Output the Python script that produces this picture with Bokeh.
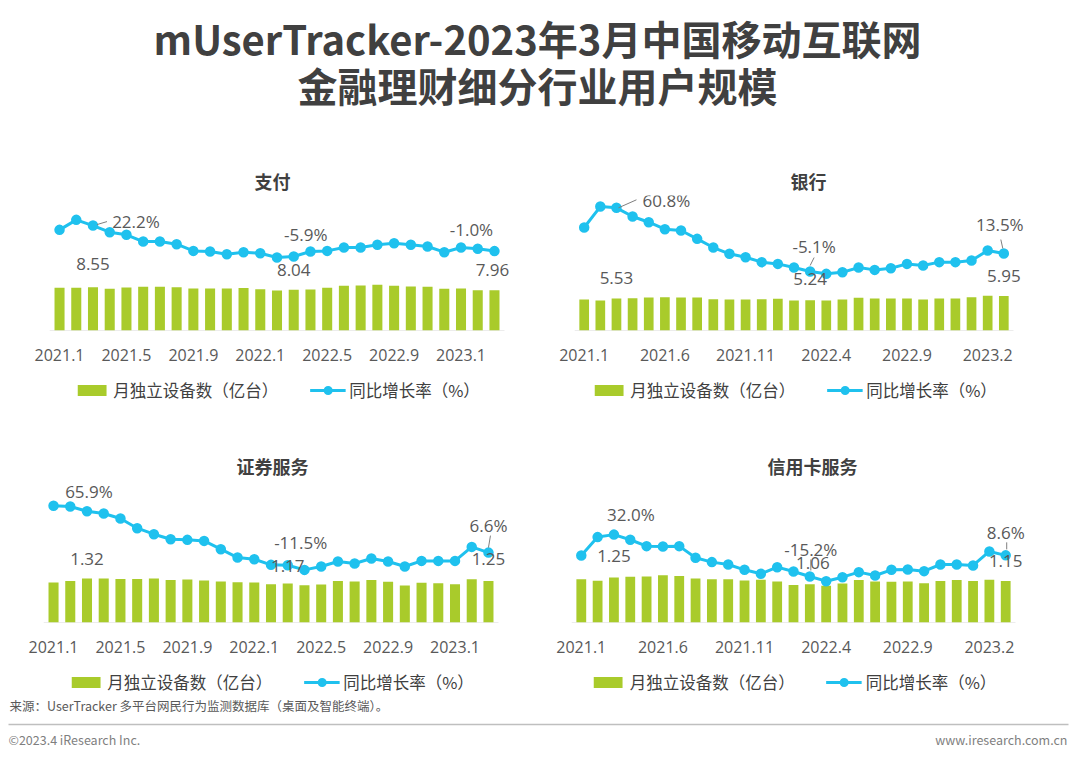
from bokeh.plotting import figure
from bokeh.models import (Range1d, ColumnDataSource, Legend, LegendItem, FixedTicker,
                          LabelSet, Spacer)
from bokeh.layouts import column, row
from bokeh.core.properties import value
from bokeh.embed import file_html
from bokeh.resources import INLINE

# ---------------- data ----------------
months = ["2021.1", "2021.2", "2021.3", "2021.4", "2021.5", "2021.6", "2021.7", "2021.8", "2021.9",
          "2021.10", "2021.11", "2021.12", "2022.1", "2022.2", "2022.3", "2022.4", "2022.5", "2022.6",
          "2022.7", "2022.8", "2022.9", "2022.10", "2022.11", "2022.12", "2023.1", "2023.2", "2023.3"]

left_ticks = ["2021.1", "2021.5", "2021.9", "2022.1", "2022.5", "2022.9", "2023.1"]
right_ticks = ["2021.1", "2021.6", "2021.11", "2022.4", "2022.9", "2023.2"]
label_months = ["2021.3", "2022.3", "2023.3"]

titles = ["支付", "银行", "证券服务", "信用卡服务"]

pay_users = [8.42, 8.42, 8.55, 8.22, 8.49, 8.62, 8.62, 8.55, 8.29, 8.29, 8.29, 8.36, 8.16, 7.89,
             8.04, 8.09, 8.42, 8.82, 8.88, 9.01, 8.82, 8.68, 8.62, 8.22, 8.29, 7.93, 7.96]
pay_growth = [18.3, 27.4, 22.2, 16.2, 13.8, 7.7, 7.7, 5.3, -0.8, -1.4, -3.8, -2.0, -2.9, -6.8,
              -5.9, -1.4, -0.8, 2.3, 2.3, 4.7, 6.2, 4.7, 3.2, -2.0, 2.3, 1.1, -1.0]

bank_users = [5.36, 5.18, 5.53, 5.59, 5.70, 5.76, 5.70, 5.70, 5.41, 5.36, 5.36, 5.41, 5.47, 5.18,
              5.24, 5.18, 5.36, 5.65, 5.53, 5.53, 5.53, 5.36, 5.53, 5.53, 5.76, 5.99, 5.95]
bank_growth = [40.4, 62.1, 60.8, 51.8, 45.9, 38.7, 37.3, 28.7, 19.7, 13.2, 9.7, 4.6, 2.8, -1.0,
               -5.1, -7.5, -5.8, -1.0, -3.4, -1.7, 2.8, 1.1, 4.6, 4.6, 6.3, 16.6, 13.5]

sec_users = [1.20, 1.25, 1.32, 1.32, 1.31, 1.31, 1.32, 1.28, 1.29, 1.26, 1.23, 1.21, 1.20, 1.15,
             1.17, 1.12, 1.14, 1.25, 1.23, 1.28, 1.22, 1.11, 1.19, 1.18, 1.15, 1.30, 1.25]
sec_growth = [73.7, 72.7, 65.9, 62.7, 55.5, 41.6, 33.0, 25.8, 24.9, 23.4, 11.5, -0.5, -2.9, -11.0,
              -11.5, -18.2, -13.4, -6.2, -9.1, -1.9, -6.2, -13.4, -5.3, -5.3, -5.3, 14.8, 6.6]

card_users = [1.20, 1.16, 1.25, 1.27, 1.28, 1.31, 1.29, 1.22, 1.20, 1.20, 1.17, 1.19, 1.14, 1.04,
              1.06, 1.02, 1.08, 1.18, 1.14, 1.13, 1.14, 1.09, 1.15, 1.18, 1.15, 1.19, 1.15]
card_growth = [8.5, 29.2, 32.0, 26.2, 19.0, 18.6, 19.0, 5.9, 1.0, -1.7, -7.7, -12.2, -4.7, -9.6,
               -15.2, -20.5, -16.0, -10.3, -14.1, -7.7, -7.3, -9.2, -1.7, -1.7, -2.8, 13.0, 8.6]

bar_legend = "月独立设备数（亿台）"
line_legend = "同比增长率（%）"
main_title_1 = "mUserTracker-2023年3月中国移动互联网"
main_title_2 = "金融理财细分行业用户规模"
source_note = "来源：UserTracker 多平台网民行为监测数据库（桌面及智能终端）。"
copyright_note = "©2023.4 iResearch Inc."
site_note = "www.iresearch.com.cn"

# ---------------- style ----------------
BAR = "#A9CB2B"
LINE = "#1FC1EE"
TXT = "#595959"
DARK = "#404040"
CJK = "Noto Sans CJK SC"
NUM = "Open Sans"
EXT = 18        # extra frame width on the right so end labels are not clipped
AXIS_BAND = 40  # space under each frame for the month labels
LEGEND_H = 34   # height of the legend strip under each panel

LAYOUT = [
    dict(fw=455, fh=135, ml=45, mr=40, bar_px=5.07, line_px=1.10, zero=80.5, tleft=205, lshift=4,
         line_off=[(43, 4), (12, 22), (-23, 22)], bar_off=[(0, 23), (0, 20), (-2, 20)],
         leaders=[(0, 4, 1, 14, 4)]),
    dict(fw=439, fh=135, ml=32, mr=61, bar_px=5.79, line_px=0.967, zero=63.9, tleft=216, lshift=2,
         line_off=[(50, 7), (4, 25), (-4, 29)], bar_off=[(0, 20), (0, 21), (0, 20)],
         leaders=[(0, 2, 0, 20, 8), (1, 0, 6, 4, 14), (2, -3, 14, -1, 5)]),
    dict(fw=455, fh=142, ml=43, mr=42, bar_px=33.3, line_px=0.697, zero=65.3, tleft=193, lshift=0,
         line_off=[(2, 20), (13, 23), (0, 27)], bar_off=[(0, 20), (0, 18), (0, 22)],
         leaders=[(2, 2, 17, 0, 5)]),
    dict(fw=444, fh=142, ml=29, mr=59, bar_px=36.0, line_px=0.887, zero=59.5, tleft=196, lshift=2,
         line_off=[(17, 20), (1, 27), (0, 23)], bar_off=[(0, 21.7), (3, 21), (0, 20)],
         leaders=[(1, 1, 17, 1, 6), (2, 1, 13, 1, 6)]),
]


def make_panel(title, users, growth, tick_labels, L):
    n = len(months)
    xs = list(range(n))
    x0, x1 = -0.6, n - 0.4
    xpx = L["fw"] / (x1 - x0)
    p = figure(width=None, height=None,
               frame_width=L["fw"] + EXT, frame_height=L["fh"],
               x_range=Range1d(x0, x1 + EXT / xpx),
               y_range=Range1d(0, L["fh"] / L["bar_px"]),
               min_border_left=L["ml"], min_border_right=L["mr"] - EXT,
               min_border_top=0, min_border_bottom=AXIS_BAND,
               output_backend="svg", toolbar_location=None, y_axis_location=None,
               title=title, outline_line_color=None, border_fill_color="white")
    p.extra_y_ranges = {"rate": Range1d(-L["zero"] / L["line_px"],
                                        (L["fh"] - L["zero"]) / L["line_px"])}
    p.xgrid.visible = False
    p.ygrid.visible = False

    p.title.align = "left"
    p.title.offset = L["tleft"]
    p.title.standoff = 4
    p.title.text_font = CJK
    p.title.text_font_size = "18px"
    p.title.text_font_style = "bold"
    p.title.text_color = DARK

    src = ColumnDataSource(dict(x=xs, users=users, growth=growth))
    p.segment(x0=[x0], y0=[0], x1=[x1], y1=[0], line_color="#D9D9D9", line_width=1)
    p.vbar(x="x", top="users", width=0.6, source=src, fill_color=BAR, line_color=None)
    p.line(x="x", y="growth", source=src, y_range_name="rate", line_color=LINE, line_width=3)
    p.scatter(x="x", y="growth", source=src, y_range_name="rate", size=7,
              fill_color=LINE, line_color=LINE, line_width=3.5)

    idx = [months.index(m) for m in label_months]
    if L["leaders"]:
        lx0, ly0, lx1, ly1 = [], [], [], []
        for (k, a, b, c, d) in L["leaders"]:
            i = idx[k]
            lx0.append(i + a / xpx)
            ly0.append(growth[i] + b / L["line_px"])
            lx1.append(i + c / xpx)
            ly1.append(growth[i] + d / L["line_px"])
        p.segment(x0=lx0, y0=ly0, x1=lx1, y1=ly1, y_range_name="rate",
                  line_color="#7F7F7F", line_width=1)

    gsrc = ColumnDataSource(dict(x=idx, y=[growth[i] for i in idx],
                                 t=[f"{growth[i]:.1f}%" for i in idx],
                                 dx=[o[0] for o in L["line_off"]], dy=[o[1] for o in L["line_off"]]))
    p.add_layout(LabelSet(x="x", y="y", text="t", source=gsrc, y_range_name="rate",
                          x_offset="dx", y_offset="dy", text_align="center",
                          text_baseline="middle", text_font=value(NUM),
                          text_font_size="17px", text_color=TXT))
    usrc = ColumnDataSource(dict(x=idx, y=[users[i] for i in idx],
                                 t=[f"{users[i]:.2f}" for i in idx],
                                 dx=[o[0] for o in L["bar_off"]], dy=[o[1] for o in L["bar_off"]]))
    p.add_layout(LabelSet(x="x", y="y", text="t", source=usrc,
                          x_offset="dx", y_offset="dy", text_align="center",
                          text_baseline="middle", text_font=value(NUM),
                          text_font_size="17px", text_color=TXT))

    ax = p.xaxis[0]
    ax.ticker = FixedTicker(ticks=[months.index(t) for t in tick_labels])
    ax.major_label_overrides = {months.index(t): t for t in tick_labels}
    ax.axis_line_color = None
    ax.major_tick_line_color = None
    ax.minor_tick_line_color = None
    ax.major_label_text_font = NUM
    ax.major_label_text_font_size = "16px"
    ax.major_label_text_color = TXT
    ax.major_label_standoff = 12

    # legend strip: same series, legend-only renderers (hidden), legend inside its frame
    lg = figure(width=L["ml"] + L["fw"] + L["mr"], height=LEGEND_H,
                x_range=Range1d(0, 1), y_range=Range1d(0, 1),
                min_border_left=L["ml"] + L["lshift"], min_border_right=L["mr"] - L["lshift"],
                min_border_top=0, min_border_bottom=0,
                x_axis_location=None, y_axis_location=None, outline_line_color=None,
                output_backend="svg", toolbar_location=None)
    lg.grid.visible = False
    lb = lg.vbar(x="x", top="users", width=0.6, source=src, fill_color=BAR, line_color=None)
    ll = lg.line(x="x", y="growth", source=src, line_color=LINE, line_width=3)
    lp = lg.scatter(x="x", y="growth", source=src, size=7, fill_color=LINE, line_color=LINE,
                    line_width=3.5)
    for r in (lb, ll, lp):
        r.visible = False
    legend = Legend(items=[LegendItem(label=bar_legend, renderers=[lb]),
                           LegendItem(label=line_legend, renderers=[ll, lp])],
                    orientation="horizontal", location="top_center",
                    glyph_width=36, glyph_height=14, label_standoff=4, spacing=31,
                    padding=0, margin=8, border_line_color=None, background_fill_alpha=0,
                    label_text_font=CJK, label_text_font_size="16.5px", label_text_color=DARK)
    lg.add_layout(legend)
    return column(p, lg)


HEADER_H = 163
SPACER_H = 44
FOOTER_H = 58
W = 1072

header = figure(width=W, height=HEADER_H, x_range=Range1d(0, W), y_range=Range1d(HEADER_H, 0),
                x_axis_location=None, y_axis_location=None, min_border=0,
                outline_line_color=None, toolbar_location=None, output_backend="svg")
header.grid.visible = False
header.text(x=[537, 537], y=[37, 84], text=[main_title_1, main_title_2],
            text_align="center", text_baseline="middle", text_font=value(CJK),
            text_font_style="bold", text_font_size=["40px", "40px"], text_color=DARK)

panels = [make_panel(titles[0], pay_users, pay_growth, left_ticks, LAYOUT[0]),
          make_panel(titles[1], bank_users, bank_growth, right_ticks, LAYOUT[1]),
          make_panel(titles[2], sec_users, sec_growth, left_ticks, LAYOUT[2]),
          make_panel(titles[3], card_users, card_growth, right_ticks, LAYOUT[3])]

footer = figure(width=W, height=FOOTER_H, x_range=Range1d(0, W), y_range=Range1d(FOOTER_H, 0),
                x_axis_location=None, y_axis_location=None, min_border=0,
                outline_line_color=None, toolbar_location=None, output_backend="svg")
footer.grid.visible = False
footer.text(x=[9], y=[9], text=[source_note], text_align="left", text_baseline="middle",
            text_font=value(CJK), text_font_size="12.5px", text_color=TXT)
footer.segment(x0=[8], y0=[28], x1=[1068], y1=[28], line_color="#BFBFBF", line_width=1.5)
footer.text(x=[8], y=[43], text=[copyright_note], text_align="left", text_baseline="middle",
            text_font=value(CJK), text_font_size="12.5px", text_color="#7F7F7F")
footer.text(x=[1067], y=[43], text=[site_note], text_align="right", text_baseline="middle",
            text_font=value(CJK), text_font_size="12.5px", text_color="#7F7F7F")

layout = column(header, row(panels[0], panels[1]), Spacer(width=W, height=SPACER_H),
                row(panels[2], panels[3]), footer)

open("out.html", "w").write(file_html(layout, INLINE))
